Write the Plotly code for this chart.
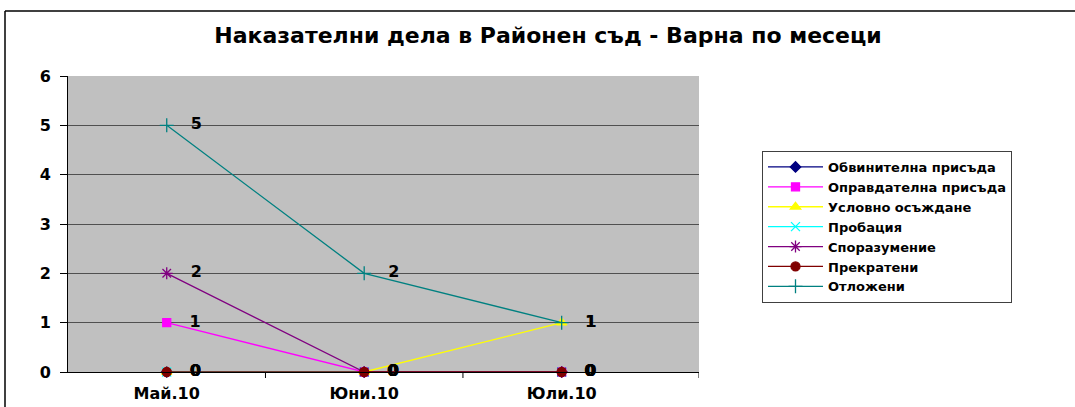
import plotly.graph_objects as go

categories = ["Май.10", "Юни.10", "Юли.10"]
series_names = ["Обвинителна присъда", "Оправдателна присъда", "Условно осъждане",
                "Пробация", "Споразумение", "Прекратени", "Отложени"]
obvinitelna = [0, 0, 0]
opravdatelna = [1, 0, 0]
uslovno = [0, 0, 1]
probacia = [0, 0, 0]
sporazumenie = [2, 0, 0]
prekrateni = [0, 0, 0]
otlozheni = [5, 2, 1]
values = [obvinitelna, opravdatelna, uslovno, probacia, sporazumenie, prekrateni, otlozheni]

colors = ["#000080", "#FF00FF", "#FFFF00", "#00FFFF", "#800080", "#800000", "#008080"]
symbols = ["diamond", "square", "triangle-up", "x-thin-open", "asterisk-open", "circle", "cross-thin-open"]
sizes = [8, 8, 9, 9, 10, 9, 10]

L, R, T, B = 68, 699, 76, 372
W, H = 1075, 407

fig = go.Figure()
xs = list(range(len(categories)))
for name, vals, c, s, sz in zip(series_names, values, colors, symbols, sizes):
    fig.add_trace(go.Scatter(
        x=xs, y=vals, name=name, mode="lines+markers+text",
        line=dict(color=c, width=1.3),
        marker=dict(symbol=s, color=c, size=sz, line=dict(color=c, width=1.3)),
        text=["   " + str(v) for v in vals], textposition="middle right",
        textfont=dict(family="DejaVu Sans", size=16, color="black", weight="bold"),
        cliponaxis=False,
    ))

px = lambda p: (p - L) / (R - L)
py = lambda p: (B - p) / (B - T)

fig.update_layout(
    width=W, height=H,
    margin=dict(l=L, r=W - R, t=T, b=H - B, pad=0, autoexpand=False),
    paper_bgcolor="white", plot_bgcolor="#C0C0C0",
    title=dict(text="Наказателни дела в Районен съд - Варна по месеци",
               x=548 / W, xanchor="center", y=1 - 35 / H, yanchor="middle",
               font=dict(family="DejaVu Sans", size=22, color="black", weight="bold")),
    showlegend=True,
    legend=dict(x=px(762), y=py(151), xanchor="left", yanchor="top",
                bgcolor="white", bordercolor="#404040", borderwidth=1,
                font=dict(family="DejaVu Sans", size=13, color="black", weight="bold"),
                tracegroupgap=0, itemwidth=55),
    xaxis=dict(tickmode="array", tickvals=xs, ticktext=categories,
               range=[-0.5, 2 + (699 - 562) / 197], showgrid=False, zeroline=False,
               showline=True, linecolor="black", linewidth=1, automargin=False,
               ticks="", ticklabelstandoff=7,
               tickfont=dict(family="DejaVu Sans", size=16, color="black", weight="bold")),
    yaxis=dict(range=[0, 6], dtick=1, showgrid=True, gridcolor="#505050", gridwidth=1,
               zeroline=False, showline=True, linecolor="black", linewidth=1, automargin=False,
               ticks="outside", ticklen=7, tickcolor="black", ticklabelstandoff=6,
               tickfont=dict(family="DejaVu Sans", size=16, color="black", weight="bold")),
    shapes=[
        dict(type="line", xref="paper", yref="paper", x0=px(5), x1=px(5), y0=py(11), y1=py(420),
             line=dict(color="black", width=1.5)),
        dict(type="line", xref="paper", yref="paper", x0=px(5), x1=px(1080), y0=py(11), y1=py(11),
             line=dict(color="black", width=1.5)),
    ] + [
        dict(type="line", xref="x", yref="paper", x0=b, x1=b, y0=0, y1=-6 / (B - T),
             line=dict(color="black", width=1))
        for b in [0.5, 1.5, 2 + (699 - 562) / 197]
    ],
)

fig.write_html("out.html", config={"displayModeBar": False},
               post_script="document.body.style.margin='0';document.body.style.overflow='hidden';")
